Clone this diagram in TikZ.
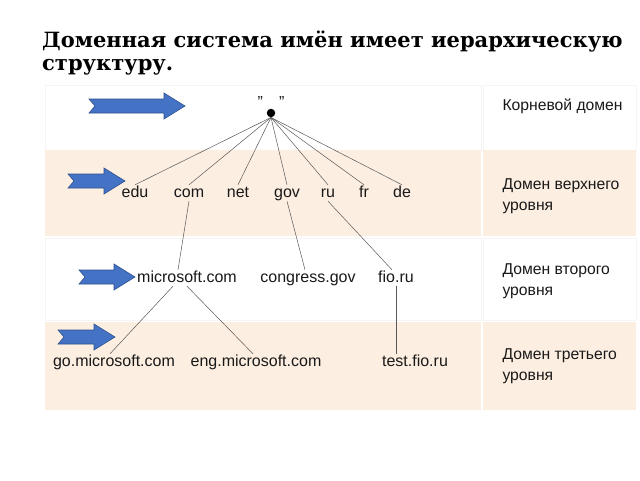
\documentclass[tikz,border=0pt]{standalone}
\usepackage{fontspec}
\setmainfont{DejaVu Serif}
\setsansfont{Liberation Sans}
\usetikzlibrary{positioning}
\definecolor{peach}{RGB}{252,238,224}
\definecolor{arrblue}{RGB}{68,114,196}
\definecolor{arredge}{RGB}{47,82,143}
\definecolor{labtext}{RGB}{25,25,25}
\tikzset{
  band/.style = {fill=peach, draw=none},
  wband/.style = {fill=white, draw=gray!8},
  dname/.style = {font=\sffamily\fontsize{16}{17}\selectfont, text=labtext, inner sep=1pt,
                  text height=11pt, text depth=3pt},
  lvl/.style = {font=\sffamily\fontsize{15.7}{20.5}\selectfont, text=labtext, align=left, anchor=west},
  tline/.style = {draw=black!65, line width=0.5pt},
  pics/domarrow/.style = {code={
    \filldraw[fill=arrblue, draw=arredge, line width=0.6pt]
      (0,-7) -- (#1-21,-7) -- (#1-21,-13) -- (#1,0) -- (#1-21,13)
      -- (#1-21,7) -- (0,7) -- (6,0) -- cycle;}}
}
\begin{document}
\begin{tikzpicture}[x=1pt, y=-1pt]
\useasboundingbox (0,0) rectangle (640,480);
% bands
\path[wband] (45,85) rectangle (481,150);
\path[band] (45,150) rectangle (481,236);
\path[wband] (45,238) rectangle (481,320);
\path[band] (45,322) rectangle (481,410);
\path[wband] (483,85) rectangle (636,150);
\path[band] (483,150) rectangle (636,236);
\path[wband] (483,238) rectangle (636,320);
\path[band] (483,322) rectangle (636,410);

% title
\node[anchor=base west, align=left, font=\bfseries\fontsize{21}{23}\selectfont, inner sep=0pt]
  (title) at (42,70) {Доменная система имён имеет иерархическую\\структуру.};

% root
\node[circle, fill=black, inner sep=3pt] (root) at (271,113) {};
\node[dname] (rootq) at (271,103) {"\hspace{16pt}"};

% top level
\node[dname] (edu) at (135,193) {edu};
\node[dname] (com) at (189,193) {com};
\node[dname] (net) at (238,193) {net};
\node[dname] (gov) at (287,193) {gov};
\node[dname] (ru)  at (328,193) {ru};
\node[dname] (fr)  at (364,193) {fr};
\node[dname] (de)  at (402,193) {de};

% second level
\node[dname] (ms)   at (187,278) {microsoft.com};
\node[dname] (cong) at (308,278) {congress.gov};
\node[dname] (fio)  at (396,278) {fio.ru};

% third level
\node[dname] (go)   at (114,362) {go.microsoft.com};
\node[dname] (eng)  at (256,362) {eng.microsoft.com};
\node[dname] (test) at (415,362) {test.fio.ru};

% connectors
\foreach \d in {edu,com,net,gov,ru,fr,de}
  \path[tline] (root.south) -- (\d.north);
\path[tline] (com.south) -- ([xshift=-9pt]ms.north);
\path[tline] (gov.south) -- ([xshift=-3pt]cong.north);
\path[tline] (ru.south) -- ([xshift=-4pt]fio.north);
\path[tline] ([xshift=-14pt]ms.south) -- ([xshift=-4pt]go.north);
\path[tline] (ms.south) -- ([xshift=-3pt]eng.north);
\path[tline] (fio.south) -- (fio.south |- test.north);

% arrows
\pic at (89,106) {domarrow=96};
\pic at (68,181) {domarrow=57};
\pic at (79,277) {domarrow=56};
\pic at (58,337) {domarrow=57};

% level names
\node[lvl] (l0) at (499,106) {Корневой домен};
\node[lvl] (l1) at (499,196) {Домен верхнего\\уровня};
\node[lvl] (l2) at (499,281) {Домен второго\\уровня};
\node[lvl] (l3) at (499,366) {Домен третьего\\уровня};
\end{tikzpicture}
\end{document}
